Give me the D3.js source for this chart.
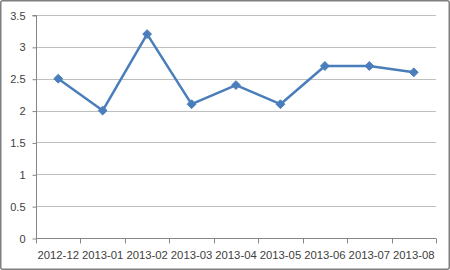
<!DOCTYPE html>
<html><head><meta charset="utf-8">
<script src="https://cdn.jsdelivr.net/npm/d3@7"></script>
<style>html,body{margin:0;padding:0;background:#fff;}svg{display:block;}</style>
</head><body>
<script>
const categories = ["2012-12","2013-01","2013-02","2013-03","2013-04","2013-05","2013-06","2013-07","2013-08"];
const values = [2.5, 2.0, 3.2, 2.1, 2.4, 2.1, 2.7, 2.7, 2.6];
const yTicks = [0, 0.5, 1, 1.5, 2, 2.5, 3, 3.5];

const W = 450, H = 270;
const m = {left: 36, right: 14, top: 15, bottom: 32};
const svg = d3.select("body").append("svg").attr("width", W).attr("height", H);

svg.append("rect").attr("x", 0.75).attr("y", 0.75).attr("width", W - 1.5).attr("height", H - 1.5)
  .attr("rx", 2).attr("fill", "#fff").attr("stroke", "#7f7f7f").attr("stroke-width", 1.5);

const x = d3.scaleBand().domain(categories).range([m.left, W - m.right]).padding(0);
const y = d3.scaleLinear().domain([0, 3.5]).range([H - m.bottom, m.top]);

// gridlines
svg.append("g").selectAll("line").data(yTicks.filter(t => t > 0)).join("line")
  .attr("x1", m.left).attr("x2", W - m.right)
  .attr("y1", d => Math.round(y(d)) + 0.5).attr("y2", d => Math.round(y(d)) + 0.5)
  .attr("stroke", "#bfbfbf").attr("stroke-width", 1);

// y axis
const yAxis = d3.axisLeft(y).tickValues(yTicks).tickSize(4).tickPadding(7).tickFormat(d => String(d));
const gy = svg.append("g").attr("transform", `translate(${m.left + 0.5},0.5)`).call(yAxis);
gy.select(".domain").attr("stroke", "#868686").attr("d", `M-4,${y(3.5)}H0V${y(0)}`);
gy.selectAll(".tick line").attr("stroke", "#868686");
gy.selectAll("text").attr("font-family", "'Liberation Sans', Arial, sans-serif").attr("font-size", "11px").attr("fill", "#404040");

// x axis
const gx = svg.append("g").attr("transform", `translate(0,${Math.round(y(0)) + 0.5})`);
gx.append("line").attr("x1", m.left).attr("x2", W - m.right).attr("stroke", "#868686");
const bounds = categories.map(c => x(c)).concat([W - m.right]);
gx.selectAll("line.tk").data(bounds).join("line").attr("class", "tk")
  .attr("x1", d => Math.round(d) + 0.5).attr("x2", d => Math.round(d) + 0.5).attr("y1", 0).attr("y2", 5)
  .attr("stroke", "#868686");
gx.selectAll("text").data(categories).join("text")
  .attr("x", d => x(d) + x.bandwidth() / 2).attr("y", 20)
  .attr("text-anchor", "middle")
  .attr("font-family", "'Liberation Sans', Arial, sans-serif").attr("font-size", "11.3px").attr("fill", "#404040")
  .text(d => d);

// line
const line = d3.line().x((d, i) => x(categories[i]) + x.bandwidth() / 2).y(d => y(d));
svg.append("path").datum(values).attr("d", line).attr("fill", "none")
  .attr("stroke", "#4a7ebb").attr("stroke-width", 2.5).attr("stroke-linejoin", "round");

// diamond markers
const sym = d3.symbol().type(d3.symbolDiamond2).size(50);
svg.append("g").selectAll("path").data(values).join("path")
  .attr("transform", (d, i) => `translate(${x(categories[i]) + x.bandwidth() / 2},${y(d)})`)
  .attr("d", sym).attr("fill", "#4a7ebb").attr("stroke", "#4a7ebb").attr("stroke-width", 1);
</script>
</body></html>
